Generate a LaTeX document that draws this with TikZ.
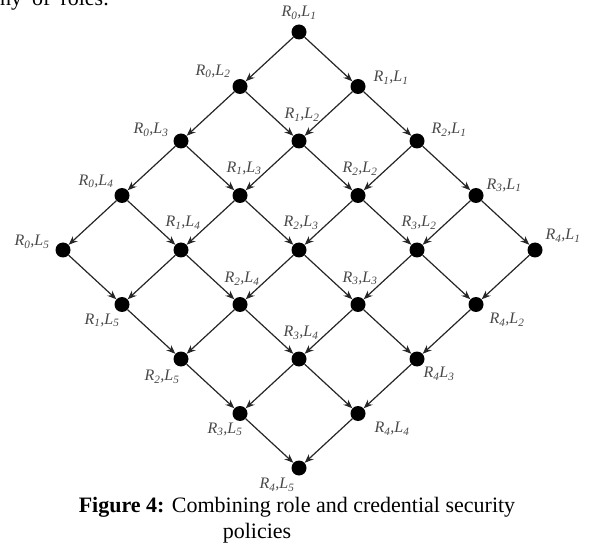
\documentclass[tikz,border=0pt]{standalone}
\usepackage{fontspec}
\setmainfont{Liberation Serif}
\usetikzlibrary{arrows.meta}
\newcommand\RL[2]{R\textsubscript{#1},L\textsubscript{#2}}
\begin{document}
\begin{tikzpicture}[x=1pt,y=-1pt,
  dot/.style={circle,fill=black,inner sep=0pt,minimum size=15pt},
  edge/.style={draw=black!85,line width=1.2pt,-{Stealth[length=9pt,width=7pt]}},
  lbl/.style={font=\fontsize{16}{16}\selectfont\itshape,text=black!72,inner sep=0pt},
  body/.style={font=\fontsize{22}{26}\selectfont,inner sep=0pt}]
\useasboundingbox (0,0) rectangle (592,548);
\clip (0,0) rectangle (592,548);
% nodes
\foreach \i in {0,...,4}{\foreach \j in {1,...,5}{
  \node[dot] (n\i\j) at ({299+59*(\i-\j+1)},{32+54.5*(\i+\j-1)}) {};
}}
% edges
\foreach \i in {0,...,4}{\foreach \j in {1,...,4}{
  \pgfmathtruncatemacro\k{\j+1}
  \draw[edge] (n\i\j) -- (n\i\k);
}}
\foreach \i in {0,...,3}{\foreach \j in {1,...,5}{
  \pgfmathtruncatemacro\k{\i+1}
  \draw[edge] (n\i\j) -- (n\k\j);
}}
% labels: top
\node[lbl] (l01) at ([shift={(0,-19)}]n01) {\RL01};
% left column
\node[lbl] (l02) at ([shift={(-27,-15)}]n02) {\RL02};
\node[lbl] (l03) at ([shift={(-30,-11)}]n03) {\RL03};
\node[lbl] (l04) at ([shift={(-26,-14)}]n04) {\RL04};
\node[lbl] (l05) at ([shift={(-31,-8)}]n05) {\RL05};
% right column
\node[lbl] (l11) at ([shift={(33,-9)}]n11) {\RL11};
\node[lbl] (l21) at ([shift={(32,-11)}]n21) {\RL21};
\node[lbl] (l31) at ([shift={(28,-10)}]n31) {\RL31};
\node[lbl] (l41) at ([shift={(28,-14)}]n41) {\RL41};
% interior (above)
\node[lbl] (l12) at ([shift={(3,-26)}]n12) {\RL12};
\node[lbl] (l13) at ([shift={(4,-27)}]n13) {\RL13};
\node[lbl] (l22) at ([shift={(2,-27)}]n22) {\RL22};
\node[lbl] (l14) at ([shift={(2,-27)}]n14) {\RL14};
\node[lbl] (l23) at ([shift={(2,-27)}]n23) {\RL23};
\node[lbl] (l32) at ([shift={(2,-27)}]n32) {\RL32};
\node[lbl] (l24) at ([shift={(2,-26)}]n24) {\RL24};
\node[lbl] (l33) at ([shift={(2,-26)}]n33) {\RL33};
\node[lbl] (l34) at ([shift={(2,-26)}]n34) {\RL34};
% bottom left
\node[lbl] (l15) at ([shift={(-20,16)}]n15) {\RL15};
\node[lbl] (l25) at ([shift={(-19,18)}]n25) {\RL25};
\node[lbl] (l35) at ([shift={(-15,16)}]n35) {\RL35};
\node[lbl] (l45) at ([shift={(-22,17)}]n45) {\RL45};
% bottom right
\node[lbl] (l42) at ([shift={(31,15)}]n42) {\RL42};
\node[lbl] (l43) at ([shift={(22,15)}]n43) {R\textsubscript{4}L\textsubscript{3}};
\node[lbl] (l44) at ([shift={(34,15)}]n44) {\RL44};
% caption and text
\node[body,anchor=base] (cap1) at (297,512) {\textbf{Figure 4:} Combining role and credential security};
\node[body,anchor=base] (cap2) at (257,538) {policies};
\node[body,anchor=base west] (top) at (0,6) {ny\hspace{10pt}of\hspace{10pt}roles.};
\end{tikzpicture}
\end{document}
